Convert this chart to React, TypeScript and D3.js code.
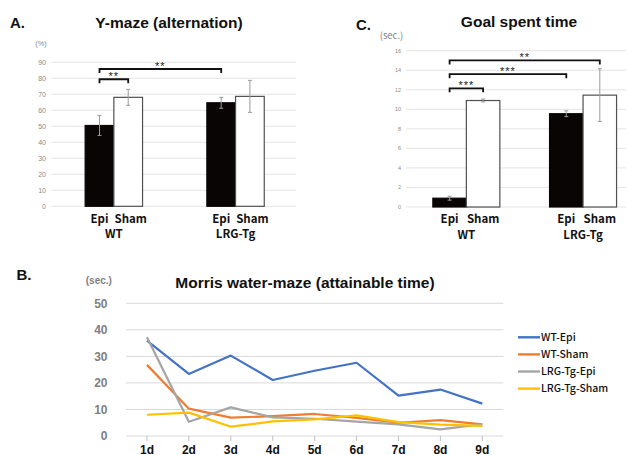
import React from 'react'
import { scaleBand, scaleLinear, line } from 'd3'

// bar charts
const groups = ['WT', 'LRG-Tg']
const conditions = ['Epi', 'Sham']

const ymazeEpi = [50.5, 64.7]
const ymazeSham = [68.1, 68.7]
const ymazeEpiErr = [6.2, 3.4]
const ymazeShamErr = [5.0, 10.0]
const ymazeTicks = [0, 10, 20, 30, 40, 50, 60, 70, 80, 90]

const goalEpi = [0.9, 9.55]
const goalSham = [10.9, 11.45]
const goalEpiErr = [0.2, 0.3]
const goalShamErr = [0.15, 2.7]
const goalTicks = [0, 2, 4, 6, 8, 10, 12, 14, 16]

// significance brackets: [group, condition] -> [group, condition], height in data units
const ymazeSig = [
  { a: [0, 0], b: [0, 1], level: 79.4, label: '**' },
  { a: [0, 0], b: [1, 0], level: 85.8, label: '**' },
]
const goalSig = [
  { a: [0, 0], b: [0, 1], level: 12.15, label: '***' },
  { a: [0, 0], b: [1, 0], level: 13.6, label: '***' },
  { a: [0, 0], b: [1, 1], level: 15.0, label: '**' },
]

// Morris water maze
const days = ['1d', '2d', '3d', '4d', '5d', '6d', '7d', '8d', '9d']
const wtEpi = [35.9, 23.4, 30.3, 21.1, 24.6, 27.6, 15.2, 17.5, 12.2]
const wtSham = [26.8, 10.3, 6.9, 7.5, 8.3, 6.8, 5.0, 6.0, 4.4]
const lrgEpi = [37.2, 5.4, 10.8, 7.0, 6.5, 5.4, 4.4, 2.5, 4.5]
const lrgSham = [8.0, 8.8, 3.5, 5.5, 6.3, 7.8, 5.2, 4.3, 3.8]
const mwmTicks = [0, 10, 20, 30, 40, 50]
const seriesNames = ['WT-Epi', 'WT-Sham', 'LRG-Tg-Epi', 'LRG-Tg-Sham']
const seriesColors = ['#4472C4', '#ED7D31', '#A5A5A5', '#FFC000']

const arial = 'Liberation Sans, Arial, sans-serif'
const gothic = '"Noto Sans CJK KR", "Noto Sans", sans-serif'

function BarPanel({ x0, x1, yTop, yBottom, max, ticks, epi, sham, epiErr, shamErr, sig, barW,
  gridRight, tickX, tickSize, labelY, groupY, shamShift }: any) {
  const x = scaleBand().domain(groups).range([x0, x1])
  const y = scaleLinear().domain([0, max]).range([yBottom, yTop])
  const center = (g: number) => (x(groups[g]) as number) + x.bandwidth() / 2
  const barX = (g: number, c: number) => center(g) - barW + c * barW
  const barMid = (g: number, c: number) => barX(g, c) + barW / 2
  const vals = [epi, sham]
  const errs = [epiErr, shamErr]
  return (
    <g>
      {ticks.map((t: number) => (
        <g key={t}>
          <line x1={x0 - 2} x2={gridRight} y1={y(t)} y2={y(t)} stroke="#e4e4e4" strokeWidth={1} />
          <text x={tickX} y={y(t) + tickSize * 0.35} fontSize={tickSize} textAnchor="end" fill="#8a8a8a" fontFamily={arial}>{t}</text>
        </g>
      ))}
      {groups.map((_, g) => conditions.map((__, c) => {
        const v = vals[c][g]
        const e = errs[c][g]
        const bx = barX(g, c)
        return (
          <g key={g + '-' + c}>
            <rect x={bx} y={y(v)} width={barW} height={y(0) - y(v)}
              fill={c === 0 ? '#0a0505' : '#ffffff'} stroke={c === 0 ? '#0a0505' : '#505050'} strokeWidth={1.2} />
            <line x1={barMid(g, c)} x2={barMid(g, c)} y1={y(v + e)} y2={y(v - e)} stroke="#9a9a9a" strokeWidth={1} />
            <line x1={barMid(g, c) - 2} x2={barMid(g, c) + 2} y1={y(v + e)} y2={y(v + e)} stroke="#9a9a9a" strokeWidth={1} />
            <line x1={barMid(g, c) - 2} x2={barMid(g, c) + 2} y1={y(v - e)} y2={y(v - e)} stroke="#9a9a9a" strokeWidth={1} />
            <text x={barMid(g, c) + (c === 0 ? 0 : shamShift)} y={labelY} fontSize={11.5} textAnchor="middle" fontWeight="bold" fontFamily={gothic} fill="#111">{conditions[c]}</text>
          </g>
        )
      }))}
      {groups.map((name, g) => (
        <text key={name} x={center(g)} y={groupY} fontSize={11.5} textAnchor="middle" fontWeight="bold" fontFamily={gothic} fill="#111">{name}</text>
      ))}
      {sig.map((s: any, i: number) => {
        const xa = barMid(s.a[0], s.a[1])
        const xb = barMid(s.b[0], s.b[1])
        const yy = y(s.level)
        return (
          <g key={i}>
            <path d={`M${xa},${yy + 4}V${yy}H${xb}V${yy + 4}`} fill="none" stroke="#111" strokeWidth={1.8} />
            <text x={(xa + xb) / 2} y={yy + 1} fontSize={11} textAnchor="middle" fontFamily={arial} fill="#222" letterSpacing={1}>{s.label}</text>
          </g>
        )
      })}
    </g>
  )
}

function LinePanel() {
  const x = scaleBand().domain(days).range([126, 503.3])
  const y = scaleLinear().domain([0, 50]).range([436, 303.3])
  const cx = (d: string) => (x(d) as number) + x.bandwidth() / 2
  const series = [wtEpi, wtSham, lrgEpi, lrgSham]
  const path = line<number>().x((_, i) => cx(days[i])).y(v => y(v))
  return (
    <g>
      {mwmTicks.map(t => (
        <g key={t}>
          <line x1={126} x2={503.3} y1={y(t)} y2={y(t)} stroke="#d9d9d9" strokeWidth={1} />
          <text x={107.5} y={y(t) + 4.3} fontSize={12} fontWeight="bold" textAnchor="end" fill="#7f7f7f" fontFamily={arial}>{t}</text>
        </g>
      ))}
      {days.map(d => (
        <g key={d}>
          <line x1={cx(d)} x2={cx(d)} y1={436} y2={441} stroke="#bfbfbf" strokeWidth={1} />
          <text x={cx(d)} y={453.5} fontSize={12} fontWeight="bold" textAnchor="middle" fill="#111" fontFamily={arial}>{d}</text>
        </g>
      ))}
      {series.map((s, i) => (
        <path key={i} d={path(s) as string} fill="none" stroke={seriesColors[i]} strokeWidth={2.2} strokeLinejoin="round" />
      ))}
      {seriesNames.map((n, i) => {
        const ly = 337.3 + i * 17.1
        return (
          <g key={n}>
            <line x1={518} x2={540} y1={ly} y2={ly} stroke={seriesColors[i]} strokeWidth={2.4} />
            <text x={541} y={ly + 3.8} fontSize={10.5} fontWeight={500} fontFamily={gothic} fill="#111">{n}</text>
          </g>
        )
      })}
    </g>
  )
}

export default function App() {
  return (
    <div style={{ position: 'absolute', left: 0, top: 0, width: 626, height: 455, background: '#fff' }}>
      <svg width={626} height={455} viewBox="0 0 626 455">
        <rect width={626} height={455} fill="#fff" />
        {/* A */}
        <text x={10} y={28} fontSize={15} fontWeight="bold" fontFamily={arial} fill="#111">A.</text>
        <text x={169} y={27.5} fontSize={15.5} fontWeight="bold" textAnchor="middle" fontFamily={arial} fill="#111">Y-maze (alternation)</text>
        <text x={41} y={45.5} fontSize={7.5} textAnchor="middle" fontFamily={arial} fill="#8a8a8a">(%)</text>
        <BarPanel x0={53} x1={296.4} yTop={62.3} yBottom={206.3} max={90} ticks={ymazeTicks}
          epi={ymazeEpi} sham={ymazeSham} epiErr={ymazeEpiErr} shamErr={ymazeShamErr} sig={ymazeSig}
          barW={28.7} gridRight={296} tickX={46} tickSize={7} labelY={222.5} groupY={238} shamShift={2.5} />
        {/* C */}
        <text x={356} y={29.5} fontSize={15} fontWeight="bold" fontFamily={arial} fill="#111">C.</text>
        <text x={519} y={26.5} fontSize={15.5} fontWeight="bold" textAnchor="middle" fontFamily={arial} fill="#111">Goal spent time</text>
        <text x={391.5} y={39.3} fontSize={9.5} textAnchor="middle" fontFamily={gothic} fill="#7f7f7f">(sec.)</text>
        <BarPanel x0={408} x1={641.4} yTop={50.7} yBottom={207} max={16} ticks={goalTicks}
          epi={goalEpi} sham={goalSham} epiErr={goalEpiErr} shamErr={goalShamErr} sig={goalSig}
          barW={33.5} gridRight={626} tickX={401} tickSize={5.5} labelY={222.5} groupY={238.5} shamShift={0} />
        {/* B */}
        <text x={16.5} y={280} fontSize={15} fontWeight="bold" fontFamily={arial} fill="#111">B.</text>
        <text x={98.8} y={284} fontSize={10} fontWeight="bold" textAnchor="middle" fontFamily={arial} fill="#7f7f7f">(sec.)</text>
        <text x={305} y={287.5} fontSize={15.5} fontWeight="bold" textAnchor="middle" fontFamily={arial} fill="#111">Morris water-maze (attainable time)</text>
        <LinePanel />
      </svg>
    </div>
  )
}
